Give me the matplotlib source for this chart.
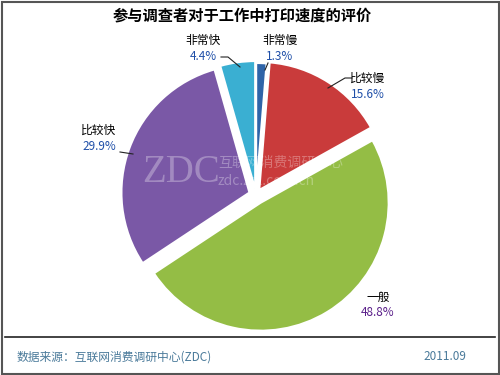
import matplotlib
matplotlib.use("Agg")
import matplotlib.pyplot as plt
from matplotlib.patches import Rectangle

plt.rcParams['font.family'] = ['Noto Sans CJK SC', 'DejaVu Sans']

title = "参与调查者对于工作中打印速度的评价"
categories = ["非常慢", "比较慢", "一般", "比较快", "非常快"]
values = [1.3, 15.6, 48.8, 29.9, 4.4]
pct_labels = ["1.3%", "15.6%", "48.8%", "29.9%", "4.4%"]
colors = ["#2f64a8", "#c93b3b", "#94bd45", "#7a58a6", "#3aafd2"]
source = "数据来源：互联网消费调研中心(ZDC)"
date = "2011.09"

W, H = 500, 375
fig = plt.figure(figsize=(5, 3.75), dpi=100)
ax = fig.add_axes([0, 0, 1, 1])

def Y(y):
    return H - y

cx, cy, r = 256, 195, 128
explode_px = [4, 6, 9, 7, 6]
wedges, _ = ax.pie(values, colors=colors, startangle=90, counterclock=False,
                   explode=explode_px, center=(cx, Y(cy)), radius=r,
                   wedgeprops=dict(linewidth=1.5, edgecolor='white'), frame=True)
ax.set_xlim(0, W)
ax.set_ylim(0, H)
ax.set_aspect('equal')
ax.axis('off')

label_pos = [(280, 40), (368, 78), (378, 297), (99, 130), (203, 40)]
pct_colors = ["#1f4fa8", "#1f4fa8", "#5a1f8a", "#1f4fa8", "#1f4fa8"]
leaders = [
    [(268, 63), (265, 70)],
    [(352, 78), (345, 78), (328, 88)],
    None,
    [(120, 152), (133, 154)],
    [(221, 57), (228, 57), (240, 67)],
]
for cat, pct, (lx, ly), pc, ld in zip(categories, pct_labels, label_pos, pct_colors, leaders):
    ax.text(lx, Y(ly), cat, ha='center', va='center', fontsize=8.5, color='black')
    ax.text(lx, Y(ly + 16), pct, ha='center', va='center', fontsize=8.5, color=pc)
    if ld:
        ax.plot([p[0] for p in ld], [Y(p[1]) for p in ld], color='#222222', lw=0.8)

# watermark
ax.text(181, Y(172), "ZDC", fontsize=28, family=['Liberation Serif', 'DejaVu Serif'],
        color='white', alpha=0.3, ha='center', va='center')
ax.text(218, Y(163), "互联网消费调研中心", fontsize=10, color='white', alpha=0.3,
        ha='left', va='center')
ax.text(218, Y(181), "zdc.zol.com.cn", fontsize=10, color='white', alpha=0.3,
        ha='left', va='center')

ax.text(W / 2 - 8, Y(15), title, ha='center', va='center', fontsize=11, fontweight='bold',
        color='black')

ax.plot([5, 495], [Y(337), Y(337)], color='#222222', lw=1.2)
ax.text(17, Y(357), source, ha='left', va='center', fontsize=8.5, color='#4a7a9a')
ax.text(466, Y(357), date, ha='right', va='center', fontsize=8.5, color='#4a7a9a')

ax.add_patch(Rectangle((1.5, 1.5), W - 3, H - 3, fill=False, edgecolor='#555555', lw=1.5))

fig.savefig("out.png", dpi=100)
